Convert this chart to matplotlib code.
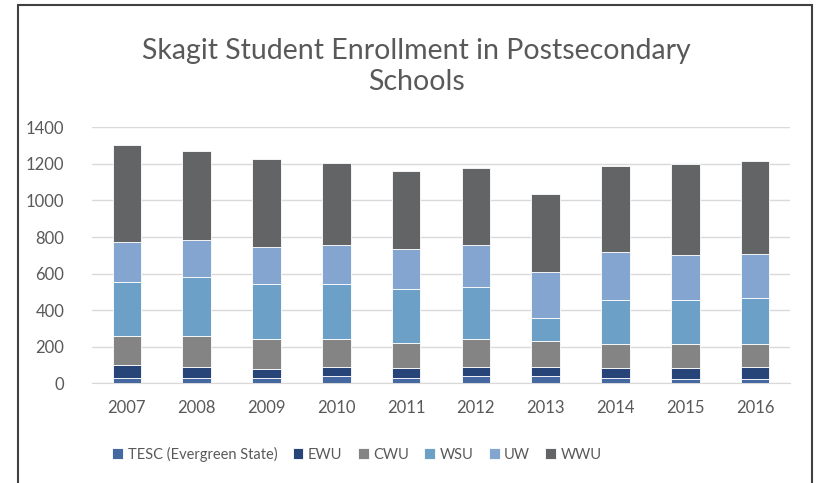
import numpy as np
import matplotlib
matplotlib.use("Agg")
import matplotlib.pyplot as plt
from matplotlib.patches import Rectangle

years = ["2007", "2008", "2009", "2010", "2011", "2012", "2013", "2014", "2015", "2016"]
series = ["TESC (Evergreen State)", "EWU", "CWU", "WSU", "UW", "WWU"]

tesc = [31, 31, 31, 40, 31, 40, 40, 31, 24, 24]
ewu = [71, 60, 45, 51, 54, 51, 51, 54, 61, 67]
cwu = [154, 165, 169, 154, 133, 149, 140, 128, 128, 122]
wsu = [300, 328, 300, 300, 300, 289, 124, 243, 243, 251]
uw = [217, 198, 200, 210, 218, 226, 254, 262, 244, 245]
wwu = [532, 489, 480, 452, 426, 425, 427, 471, 498, 507]

colors = ["#44689f", "#264478", "#848484", "#6ca0c6", "#84a5d0", "#636466"]

plt.rcParams["font.family"] = ["Lato", "DejaVu Sans"]

fig = plt.figure(figsize=(8.18, 4.83), dpi=100)
ax = fig.add_axes([0.1125, 0.2064, 0.8533, 0.53])

x = np.arange(len(years))
bottom = np.zeros(len(years))
for name, vals, c in zip(series, [tesc, ewu, cwu, wsu, uw, wwu], colors):
    ax.bar(x, vals, width=0.41, bottom=bottom, color=c, label=name,
           edgecolor="white", linewidth=0.6, zorder=3)
    bottom += np.array(vals)

ax.set_ylim(0, 1400)
ax.set_xlim(-0.5, len(years) - 0.5)
ax.set_yticks(range(0, 1401, 200))
ax.set_xticks(x)
ax.set_xticklabels(years)
ax.grid(axis="y", color="#d9d9d9", linewidth=1, zorder=0)
for s in ["top", "right", "left"]:
    ax.spines[s].set_visible(False)
ax.spines["bottom"].set_color("#d9d9d9")
ax.tick_params(axis="both", length=0, labelsize=12, colors="#595959")
ax.tick_params(axis="y", pad=20)
ax.tick_params(axis="x", pad=12)

fig.text(0.509, 0.862, "Skagit Student Enrollment in Postsecondary\nSchools",
         ha="center", va="center", fontsize=20.5, color="#595959",
         linespacing=1.26)

fig.legend(loc="center", bbox_to_anchor=(357 / 818, 0.06), ncol=6, frameon=False,
           fontsize=10.5, handlelength=0.75, handleheight=0.75,
           handletextpad=0.3, columnspacing=1.05, labelcolor="#595959")

fig.patches.append(Rectangle((17.5 / 818, -0.05), (811.5 - 17.5) / 818, 1.05 - 5 / 483,
                             transform=fig.transFigure, fill=False,
                             edgecolor="#404040", linewidth=1.5))

plt.savefig("out.png", dpi=100)
plt.close()
